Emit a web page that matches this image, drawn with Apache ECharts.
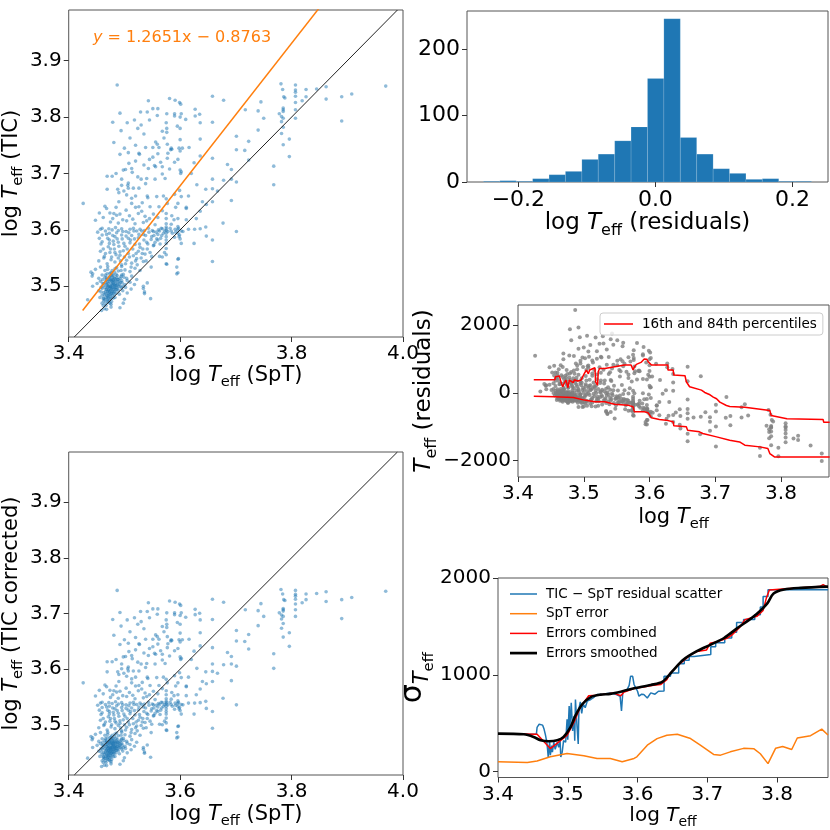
<!DOCTYPE html>
<html><head><meta charset="utf-8">
<script src="https://cdn.jsdelivr.net/npm/echarts@6.0.0/dist/echarts.min.js"></script>
<style>html,body{margin:0;padding:0;background:#fff}#c{width:830px;height:830px}</style>
</head><body><div id="c"></div>
<script>
// ---------------- DATA ----------------
// log Teff (SpT) vs log Teff (TIC)
const sptTicUpper = [
[3.487,3.857],[3.543,3.829],[3.581,3.833],[3.591,3.830],[3.599,3.826],[3.601,3.823],[3.551,3.815],[3.529,3.809],[3.541,3.809],[3.559,3.803],
[3.576,3.806],[3.590,3.806],[3.590,3.802],[3.602,3.806],[3.610,3.796],[3.627,3.814],[3.627,3.802],[3.635,3.805],[3.636,3.790],[3.492,3.807],
[3.479,3.791],[3.518,3.795],[3.530,3.786],[3.524,3.780],[3.494,3.776],[3.568,3.775],[3.576,3.773],[3.576,3.780],[3.595,3.784],[3.636,3.761],
[3.481,3.755],[3.510,3.763],[3.571,3.763],[3.556,3.756],[3.559,3.752],[3.562,3.746],[3.577,3.752],[3.551,3.746],[3.538,3.746],[3.584,3.745],
[3.585,3.743],[3.583,3.742],[3.598,3.745],[3.604,3.745],[3.616,3.746],[3.507,3.737],[3.526,3.736],[3.527,3.734],[3.492,3.734],[3.578,3.736],
[3.551,3.729],[3.577,3.727],[3.596,3.725],[3.508,3.718],[3.535,3.715],[3.554,3.714],[3.556,3.712],[3.543,3.709],[3.568,3.712],[3.581,3.708],
[3.600,3.706],[3.602,3.703],[3.601,3.700],[3.498,3.706],[3.502,3.707],[3.513,3.709],[3.514,3.702],[3.524,3.694],[3.530,3.690],[3.540,3.691],
[3.555,3.690],[3.568,3.699],[3.573,3.691],[3.478,3.695],[3.469,3.695],[3.507,3.683],[3.495,3.679],[3.506,3.679],[3.507,3.674],[3.516,3.674],
[3.526,3.674],[3.538,3.682],[3.488,3.672],[3.469,3.672],[3.490,3.666],[3.499,3.669],[3.504,3.662],[3.513,3.656],[3.520,3.660],[3.541,3.660],
[3.542,3.657],[3.558,3.659],[3.570,3.660],[3.575,3.655],[3.590,3.663],[3.602,3.659],[3.599,3.670],[3.646,3.672],[3.426,3.647],[3.465,3.642],
[3.490,3.650],[3.513,3.647],[3.532,3.648],[3.526,3.641],[3.546,3.641],[3.562,3.641],[3.611,3.640],[3.577,3.647],[3.596,3.647],[3.636,3.731],[3.625,3.719],
[3.485,3.700],[3.495,3.690],[3.520,3.722],[3.545,3.725],[3.560,3.735],[3.565,3.720],[3.590,3.720],[3.600,3.740],[3.600,3.760],[3.600,3.780],
[3.600,3.800],[3.575,3.790],[3.545,3.795],[3.560,3.815],[3.535,3.770],[3.520,3.750],[3.500,3.745],[3.505,3.790],[3.620,3.700],[3.630,3.680],
[3.615,3.660],[3.640,3.650]
];
const sptTicRight = [
[3.781,3.859],[3.784,3.849],[3.786,3.836],[3.788,3.834],[3.807,3.857],[3.807,3.848],[3.807,3.844],[3.807,3.837],[3.807,3.826],[3.807,3.813],
[3.807,3.798],[3.819,3.829],[3.826,3.849],[3.826,3.836],[3.845,3.850],[3.862,3.854],[3.862,3.832],[3.890,3.836],[3.908,3.841],[3.969,3.855],
[3.890,3.793],[3.785,3.816],[3.785,3.813],[3.785,3.810],[3.778,3.806],[3.782,3.801],[3.785,3.798],[3.782,3.792],[3.785,3.782],[3.782,3.771],
[3.785,3.751],[3.796,3.761],[3.796,3.730],[3.768,3.713],[3.768,3.680],[3.745,3.827],[3.740,3.811],[3.750,3.798],[3.740,3.777],[3.717,3.813],
[3.723,3.757],[3.716,3.741],[3.701,3.766],[3.701,3.742],[3.723,3.724],[3.685,3.716],[3.692,3.707],[3.692,3.690],[3.701,3.685],[3.692,3.652],
[3.678,3.688],[3.677,3.612],[3.701,3.597],[3.658,3.837],[3.678,3.830],[3.658,3.791],[3.658,3.727],[3.658,3.690],[3.658,3.673],[3.658,3.650],
[3.647,3.645],[3.667,3.669],[3.647,3.589],[3.658,3.582],[3.658,3.544]
];
const sptTicMiddle = [
[3.636,3.602],[3.625,3.576],[3.626,3.601],[3.615,3.601],[3.611,3.638],[3.636,3.633],[3.597,3.549],[3.594,3.522],[3.576,3.539],[3.568,3.552],
[3.548,3.534],[3.547,3.478],[3.536,3.487],[3.534,3.496],[3.522,3.512],[3.500,3.477],[3.492,3.462],[3.459,3.457],[3.476,3.463],[3.434,3.476],
[3.443,3.500],[3.443,3.522],[3.448,3.617],
[3.481,3.629],[3.486,3.626],[3.525,3.629],[3.537,3.624],[3.545,3.620],[3.575,3.629],[3.589,3.618],[3.596,3.620],[3.611,3.618],[3.629,3.620],
[3.475,3.614],[3.489,3.612],[3.504,3.616],[3.519,3.611],[3.534,3.613],[3.555,3.609],[3.575,3.620],[3.584,3.610],
[3.457,3.601],[3.460,3.603],[3.466,3.598],[3.472,3.602],[3.478,3.600],[3.484,3.604],[3.489,3.599],[3.495,3.602],[3.503,3.597],[3.510,3.601],
[3.516,3.603],[3.522,3.598],[3.528,3.601],[3.536,3.599],[3.543,3.603],[3.552,3.597],[3.561,3.600],[3.568,3.602],[3.575,3.602],[3.584,3.598],
[3.591,3.601],[3.597,3.603],[3.602,3.598],[3.646,3.605],
[3.460,3.591],[3.473,3.594],[3.483,3.588],[3.495,3.591],[3.507,3.585],[3.513,3.590],[3.525,3.586],[3.534,3.592],[3.549,3.588],[3.558,3.584],
[3.567,3.590],[3.575,3.594],[3.590,3.587],[3.599,3.591],
[3.460,3.579],[3.473,3.582],[3.481,3.574],[3.489,3.578],[3.501,3.571],[3.510,3.577],[3.519,3.574],[3.528,3.569],[3.540,3.578],[3.552,3.572],
[3.564,3.575],[3.575,3.576],[3.602,3.576],[3.473,3.576],
[3.457,3.562],[3.466,3.558],[3.475,3.566],[3.483,3.560],[3.492,3.555],[3.498,3.563],[3.507,3.558],[3.516,3.554],[3.525,3.562],[3.537,3.557],
[3.549,3.553],[3.572,3.560],[3.575,3.556],
[3.454,3.545],[3.463,3.550],[3.469,3.540],[3.476,3.547],[3.483,3.543],[3.489,3.550],[3.495,3.538],[3.504,3.546],[3.513,3.541],[3.522,3.549],
[3.534,3.544],[3.575,3.540],[3.596,3.548],
[3.440,3.525],[3.448,3.530],[3.457,3.534],[3.465,3.528],[3.470,3.535],[3.476,3.524],[3.483,3.531],[3.489,3.527],[3.495,3.535],[3.501,3.529],
[3.510,3.526],[3.519,3.532],[3.528,3.528],[3.594,3.534],[3.596,3.524],
[3.532,3.558],[3.553,3.573],[3.560,3.582],[3.541,3.566],[3.520,3.545],[3.563,3.553],[3.505,3.488],[3.512,3.495],[3.518,3.503],
[3.452,3.596],[3.455,3.585],[3.458,3.575],[3.462,3.566],[3.464,3.553],[3.468,3.592],[3.470,3.585],[3.471,3.570],[3.474,3.560],[3.477,3.552],
[3.479,3.590],[3.480,3.580],[3.482,3.566],[3.485,3.556],[3.486,3.595],[3.487,3.584],[3.490,3.571],[3.492,3.561],[3.493,3.545],[3.496,3.584],
[3.497,3.597],[3.499,3.576],[3.500,3.552],[3.502,3.540],[3.503,3.589],[3.505,3.566],[3.508,3.595],[3.509,3.552],[3.511,3.582],[3.512,3.534],
[3.515,3.566],[3.517,3.598],[3.518,3.584],[3.521,3.558],[3.523,3.538],[3.526,3.592],[3.527,3.575],[3.530,3.550],[3.531,3.598],[3.533,3.566],
[3.535,3.582],[3.538,3.590],[3.539,3.545],[3.542,3.575],[3.544,3.596],[3.546,3.560],[3.548,3.583],[3.550,3.599],[3.553,3.590],[3.555,3.578],
[3.557,3.596],[3.560,3.592],[3.563,3.598],[3.565,3.585],[3.566,3.603],[3.570,3.594],[3.572,3.598],[3.575,3.599],[3.575,3.605],[3.575,3.611],
[3.575,3.588],[3.575,3.582],[3.575,3.567],[3.578,3.597],[3.582,3.603],[3.586,3.594],[3.592,3.596],[3.596,3.594],[3.596,3.600],[3.596,3.606],
[3.598,3.588],[3.600,3.584],[3.605,3.597],
[3.455,3.630],[3.462,3.622],[3.468,3.638],[3.474,3.630],[3.479,3.620],[3.485,3.640],[3.492,3.628],[3.497,3.618],[3.503,3.635],[3.509,3.625],
[3.515,3.619],[3.520,3.640],[3.531,3.633],[3.540,3.616],[3.552,3.628],[3.560,3.622],[3.568,3.634],[3.585,3.625],[3.592,3.640]
];
const sptTicCluster = [
[3.442,3.518],[3.454,3.514],[3.460,3.520],[3.465,3.516],[3.469,3.522],[3.473,3.513],[3.476,3.519],[3.481,3.515],[3.485,3.521],[3.489,3.512],
[3.494,3.517],[3.498,3.521],[3.504,3.514],[3.513,3.518],[3.478,3.512],[3.467,3.511],
[3.451,3.505],[3.457,3.509],[3.462,3.501],[3.466,3.507],[3.469,3.503],[3.473,3.509],[3.476,3.500],[3.480,3.506],[3.483,3.502],[3.487,3.508],
[3.491,3.504],[3.495,3.510],[3.501,3.503],[3.510,3.507],[3.534,3.500],[3.541,3.506],[3.471,3.505],[3.478,3.504],[3.485,3.498],
[3.454,3.492],[3.460,3.496],[3.463,3.489],[3.467,3.494],[3.470,3.490],[3.474,3.497],[3.478,3.491],[3.481,3.495],[3.485,3.488],[3.489,3.493],
[3.495,3.497],[3.536,3.490],[3.472,3.493],[3.476,3.487],
[3.460,3.484],[3.463,3.479],[3.467,3.486],[3.470,3.481],[3.474,3.477],[3.479,3.484],[3.483,3.480],[3.465,3.476],[3.469,3.483],
[3.460,3.470],[3.463,3.474],[3.467,3.466],[3.472,3.472],[3.476,3.468],[3.498,3.470],[3.464,3.460],
[3.471,3.499],[3.477,3.510],[3.482,3.497],[3.486,3.515],[3.468,3.502],[3.475,3.493],[3.484,3.511],[3.480,3.520],[3.474,3.517],[3.479,3.501],
[3.458,3.498],[3.461,3.512],[3.464,3.485],[3.466,3.520],[3.468,3.495],[3.470,3.508],[3.471,3.487],[3.473,3.500],[3.474,3.523],[3.475,3.482],
[3.476,3.505],[3.477,3.495],[3.479,3.515],[3.480,3.490],[3.481,3.503],[3.482,3.525],[3.483,3.509],[3.484,3.494],[3.486,3.502],[3.487,3.519],
[3.488,3.497],[3.490,3.508],[3.491,3.486],[3.492,3.514],[3.493,3.500],[3.496,3.506],[3.497,3.492],[3.499,3.516],[3.502,3.498],[3.505,3.510],
[3.462,3.478],[3.466,3.470],[3.469,3.476],[3.472,3.483],[3.477,3.473],[3.480,3.479],[3.470,3.530],[3.478,3.528],[3.486,3.533],[3.494,3.528],
[3.463,3.505],[3.468,3.515],[3.473,3.490],[3.479,3.497],[3.483,3.514],[3.488,3.503],[3.475,3.511],[3.470,3.498],[3.481,3.486],[3.476,3.479],
[3.456,3.480],[3.458,3.490],[3.461,3.505],[3.465,3.498],[3.467,3.480],[3.469,3.512],[3.471,3.478],[3.473,3.516],[3.475,3.500],[3.477,3.488],
[3.478,3.520],[3.480,3.510],[3.482,3.490],[3.484,3.505],[3.486,3.494],[3.488,3.512],[3.490,3.500],[3.493,3.507],[3.495,3.520],[3.498,3.500],
[3.471,3.493],[3.476,3.497],[3.479,3.508],[3.483,3.500],[3.474,3.486],[3.466,3.490],[3.470,3.473],[3.462,3.466],[3.468,3.459],[3.474,3.470]
];
// linear fit shown in the annotation (TIC = a * SpT + b)
const FIT_SLOPE = 1.2651, FIT_INTERCEPT = -0.8763;
const fitLine = [[3.425,3.457],[3.99,4.171]];
const oneToOne = [[3.41,3.41],[3.99,3.99]];

// histogram of log Teff residuals
const histEdges = [-0.2510,-0.2271,-0.2031,-0.1792,-0.1552,-0.1313,-0.1073,-0.0834,-0.0594,-0.0355,-0.0115,
                   0.0124,0.0364,0.0603,0.0843,0.1082,0.1322,0.1561,0.1801,0.2040,0.2280];
const histCounts = [1,2,1,5,11,16,34,42,62,83,156,246,67,42,20,13,4,5,1,1];

// rolling 16th / 84th percentiles of Teff residuals
const p84Line = [[3.424,385],[3.456,385],[3.457,473],[3.463,493],[3.466,277],[3.468,178],[3.470,277],[3.473,375],[3.476,150],[3.478,375],
[3.481,400],[3.484,300],[3.486,380],[3.491,350],[3.496,380],[3.499,400],[3.501,572],[3.504,671],[3.507,560],[3.509,671],[3.511,720],[3.517,739],
[3.518,325],[3.521,227],[3.522,621],[3.524,720],[3.532,720],[3.534,769],[3.547,769],[3.549,798],[3.562,818],[3.572,818],[3.575,671],[3.577,760],
[3.580,838],[3.587,897],[3.592,996],[3.596,990],[3.598,916],[3.603,818],[3.628,818],[3.628,670],[3.636,670],[3.637,522],[3.654,503],[3.656,326],
[3.661,178],[3.679,79],[3.684,10],[3.692,-59],[3.697,-128],[3.702,-177],[3.707,-276],[3.717,-374],[3.722,-404],[3.745,-424],[3.748,-473],
[3.783,-523],[3.785,-670],[3.788,-720],[3.809,-769],[3.864,-789],[3.865,-868],[3.874,-868]];
const p16Line = [[3.424,-100],[3.456,-118],[3.484,-140],[3.501,-216],[3.517,-266],[3.532,-266],[3.534,-305],[3.547,-335],[3.567,-364],[3.575,-414],
[3.577,-562],[3.592,-562],[3.598,-591],[3.603,-739],[3.615,-790],[3.625,-807],[3.628,-857],[3.636,-857],[3.637,-976],[3.656,-1005],[3.658,-1104],
[3.676,-1153],[3.681,-1202],[3.702,-1301],[3.722,-1399],[3.737,-1449],[3.745,-1547],[3.768,-1596],[3.780,-1646],[3.783,-1793],[3.790,-1892],[3.874,-1892]];

// sigma Teff curves
const sigmaScatter = [[3.400,385],[3.455,385],[3.456,456],[3.459,490],[3.464,480],[3.466,439],[3.468,380],[3.470,303],[3.471,235],[3.472,150],
[3.474,310],[3.475,170],[3.477,269],[3.478,200],[3.480,303],[3.482,230],[3.485,303],[3.487,250],[3.489,320],[3.490,150],[3.492,201],[3.494,320],
[3.497,303],[3.499,541],[3.500,330],[3.502,677],[3.503,450],[3.505,711],[3.507,420],[3.509,575],[3.510,320],[3.511,745],[3.513,500],[3.515,286],
[3.516,650],[3.518,720],[3.520,600],[3.522,700],[3.525,660],[3.528,730],[3.533,745],[3.538,770],[3.542,796],[3.550,800],[3.561,813],[3.568,800],
[3.575,779],[3.577,626],[3.579,830],[3.585,847],[3.588,890],[3.590,984],[3.593,984],[3.595,900],[3.600,830],[3.602,779],[3.606,800],[3.609,796],
[3.614,760],[3.619,813],[3.625,800],[3.630,830],[3.638,832],[3.638,985],[3.647,985],[3.648,1019],[3.659,1019],[3.659,1115],[3.667,1115],
[3.667,1150],[3.674,1150],[3.674,1189],[3.681,1189],[3.681,1209],[3.705,1209],[3.705,1290],[3.712,1290],[3.712,1330],[3.725,1330],[3.725,1380],
[3.735,1380],[3.735,1440],[3.742,1440],[3.742,1540],[3.752,1540],[3.752,1570],[3.768,1570],[3.768,1620],[3.776,1620],[3.776,1700],[3.780,1700],
[3.780,1810],[3.787,1810],[3.787,1878],[3.873,1878]];
const sigmaSpT = [[3.400,102],[3.442,95],[3.456,109],[3.475,153],[3.499,187],[3.523,164],[3.542,136],[3.561,136],[3.578,102],[3.595,136],
[3.599,153],[3.614,273],[3.628,341],[3.642,375],[3.657,385],[3.676,341],[3.690,273],[3.709,177],[3.719,170],[3.733,204],[3.752,240],[3.767,235],
[3.776,184],[3.787,82],[3.798,242],[3.808,259],[3.821,228],[3.829,347],[3.848,371],[3.864,439],[3.873,378]];
const sigmaCombined = [[3.400,392],[3.456,385],[3.475,238],[3.499,375],[3.509,511],[3.518,664],[3.530,784],[3.542,790],[3.566,811],[3.576,784],
[3.580,818],[3.595,859],[3.623,893],[3.633,899],[3.642,951],[3.647,1019],[3.659,1104],[3.676,1206],[3.685,1240],[3.699,1257],[3.704,1325],
[3.714,1342],[3.728,1376],[3.735,1410],[3.747,1495],[3.754,1570],[3.771,1604],[3.780,1665],[3.785,1802],[3.789,1877],[3.808,1887],[3.861,1911],
[3.866,1931],[3.873,1904]];
const sigmaSmoothed = [[3.400,392],[3.437,385],[3.451,358],[3.461,324],[3.473,313],[3.485,324],[3.494,358],[3.504,460],[3.511,579],[3.521,698],
[3.533,770],[3.547,795],[3.561,803],[3.576,825],[3.595,860],[3.619,895],[3.636,930],[3.650,1039],[3.666,1158],[3.685,1244],[3.705,1312],
[3.724,1380],[3.743,1482],[3.760,1567],[3.772,1635],[3.786,1738],[3.795,1840],[3.810,1881],[3.834,1898],[3.873,1911]];

// ---------------- DERIVED ----------------
const sptTic = [].concat(sptTicUpper, sptTicRight, sptTicMiddle, sptTicCluster);
const sptCorrected = sptTic.map(([s, t]) => [s, (t - FIT_INTERCEPT) / FIT_SLOPE]);
const teffResiduals = sptCorrected.filter(([s]) => s <= 3.873)
  .map(([s, c]) => [s, Math.pow(10, c) - Math.pow(10, s)]);
const histData = histCounts.map((c, i) => [histEdges[i], histEdges[i + 1], c]);

// ---------------- CHART ----------------
const FONT = 'DejaVu Sans';
const minus = s => String(s).replace('-', '\u2212');
const f1 = v => minus(v.toFixed(1));
const f0 = v => minus(v.toFixed(0));

function richSet(size, sub, pad) {
  const base = {fontFamily: FONT, color: '#000', verticalAlign: 'top'};
  return {
    n: Object.assign({}, base, {fontSize: size, lineHeight: size}),
    i: Object.assign({}, base, {fontSize: size, lineHeight: size, fontStyle: 'italic'}),
    s: Object.assign({}, base, {fontSize: sub, lineHeight: sub, padding: [pad, 0, 0, 0]})
  };
}
function axis(gi, min, max, ticks, fmt, fs, name, gap, rich) {
  return {
    type: 'value', gridIndex: gi, min, max,
    axisLine: {show: false, onZero: false}, splitLine: {show: false},
    axisTick: {show: true, length: 5, lineStyle: {color: '#333', width: 1}, customValues: ticks},
    axisLabel: {customValues: ticks, formatter: fmt, fontFamily: FONT, fontSize: fs, color: '#000', margin: 7},
    name, nameLocation: 'middle', nameGap: gap, nameTextStyle: {rich}
  };
}
const grid = (left, top, width, height) => ({left, top, width, height, show: true, borderColor: '#555', borderWidth: 1, backgroundColor: 'transparent', containLabel: false});

const R21 = richSet(21, 14.7, 10);
const R23 = richSet(23, 16, 11);
const R20 = richSet(20, 14, 9.5);
const sigmaRich = {
  g: {fontFamily: FONT, fontSize: 30, lineHeight: 30, color: '#000', verticalAlign: 'top'},
  t: {fontFamily: FONT, fontSize: 21, lineHeight: 21, fontStyle: 'italic', color: '#000', verticalAlign: 'top', padding: [14, 0, 0, 0]},
  e: {fontFamily: FONT, fontSize: 14.7, lineHeight: 14.7, color: '#000', verticalAlign: 'top', padding: [23, 0, 0, 0]}
};
const thin = 'path://M0,0h18v1h-18z';
const thick = 'path://M0,0h10v1h-10z';
const legendText = {fontFamily: FONT, fontSize: 13.5, color: '#000', padding: [0, 0, 0, 4]};

const option = {
  animation: false,
  backgroundColor: '#fff',
  grid: [
    grid(66, 10, 337, 327),
    grid(467, 11, 361, 171),
    grid(518, 305, 311, 172),
    grid(498, 578, 330, 201),
    grid(66, 452, 337, 326)
  ],
  xAxis: [
    axis(0, 3.4, 4.0, [3.4, 3.6, 3.8, 4.0], f1, 20, '{n|log }{i|T}{s|eff}{n| (SpT)}', 25, R21),
    axis(1, -0.275, 0.252, [-0.2, 0, 0.2], f1, 22, '{n|log }{i|T}{s|eff}{n| (residuals)}', 30, R23),
    axis(2, 3.4, 3.873, [3.4, 3.5, 3.6, 3.7, 3.8], f1, 20, '{n|log }{i|T}{s|eff}', 30, R21),
    axis(3, 3.4, 3.873, [3.4, 3.5, 3.6, 3.7, 3.8], f1, 20, '{n|log }{i|T}{s|eff}', 28, R20),
    axis(4, 3.4, 4.0, [3.4, 3.6, 3.8, 4.0], f1, 20, '{n|log }{i|T}{s|eff}{n| (SpT)}', 29, R21)
  ],
  yAxis: [
    axis(0, 3.41, 3.99, [3.5, 3.6, 3.7, 3.8, 3.9], f1, 20, '{n|log }{i|T}{s|eff}{n| (TIC)}', 41, R21),
    axis(1, 0, 257.6, [0, 100, 200], f0, 22, '', 0, R21),
    axis(2, -2485, 2591, [-2000, 0, 2000], f0, 20, '{i|T}{s|eff}{n| (residuals)}', 70, R23),
    axis(3, -61, 2000, [0, 1000, 2000], f0, 20, '{g|\u03c3}{t|T}{e|eff}', 57, sigmaRich),
    axis(4, 3.41, 3.99, [3.5, 3.6, 3.7, 3.8, 3.9], f1, 20, '{n|log }{i|T}{s|eff}{n| (TIC corrected)}', 41, R21)
  ],
  legend: [
    {
      data: [{name: '16th and 84th percentiles', icon: 'path://M0,0h19v1h-19z'}], left: 600, top: 313, orient: 'vertical',
      padding: [4, 6, 4, 4], backgroundColor: 'rgba(255,255,255,0.8)', borderColor: '#cccccc', borderWidth: 1, borderRadius: 3,
      itemWidth: 29, itemHeight: 14, selectedMode: false, symbolKeepAspect: true, textStyle: legendText
    },
    {
      data: [
        {name: 'TIC \u2212 SpT residual scatter', icon: thin},
        {name: 'SpT error', icon: thin},
        {name: 'Errors combined', icon: thin},
        {name: 'Errors smoothed', icon: thick}
      ],
      left: 510, top: 587, orient: 'vertical', padding: 0, itemGap: 5.7,
      itemWidth: 27, itemHeight: 14, selectedMode: false, symbolKeepAspect: true, textStyle: legendText
    }
  ],
  graphic: [{
    type: 'text', left: 93, top: 30,
    style: {
      text: '{i|y}{n| = 1.2651x \u2212 0.8763}',
      rich: {
        i: {fontFamily: FONT, fontSize: 16, fontStyle: 'italic', fill: '#ff7f0e', color: '#ff7f0e'},
        n: {fontFamily: FONT, fontSize: 16, fill: '#ff7f0e', color: '#ff7f0e'}
      }
    }
  }],
  series: [
    {type: 'scatter', xAxisIndex: 0, yAxisIndex: 0, data: sptTic, symbolSize: 3.6,
     itemStyle: {color: '#1f77b4', opacity: 0.5}, clip: true, z: 2},
    {type: 'line', xAxisIndex: 0, yAxisIndex: 0, data: fitLine, symbol: 'none', clip: true,
     lineStyle: {color: '#ff7f0e', width: 1.5}, z: 3},
    {type: 'line', xAxisIndex: 0, yAxisIndex: 0, data: oneToOne, symbol: 'none', clip: true,
     lineStyle: {color: '#222', width: 1}, z: 3},
    {type: 'custom', xAxisIndex: 1, yAxisIndex: 1, data: histData, encode: {x: [0, 1], y: 2},
     renderItem: (params, api) => {
       const p0 = api.coord([api.value(0), 0]);
       const p1 = api.coord([api.value(1), api.value(2)]);
       return {type: 'rect', shape: {x: p0[0], y: p1[1], width: p1[0] - p0[0], height: p0[1] - p1[1]},
               style: {fill: '#1f77b4', stroke: 'rgba(255,255,255,0.25)', lineWidth: 0.5}};
     }},
    {type: 'scatter', xAxisIndex: 2, yAxisIndex: 2, data: teffResiduals, symbolSize: 4,
     itemStyle: {color: '#808080'}, clip: true, z: 2},
    {type: 'line', name: '16th and 84th percentiles', xAxisIndex: 2, yAxisIndex: 2, data: p84Line, symbol: 'none',
     lineStyle: {color: '#ff0000', width: 1.5}, itemStyle: {color: '#ff0000'}, z: 3},
    {type: 'line', name: '16th and 84th percentiles', xAxisIndex: 2, yAxisIndex: 2, data: p16Line, symbol: 'none',
     lineStyle: {color: '#ff0000', width: 1.5}, itemStyle: {color: '#ff0000'}, z: 3},
    {type: 'line', name: 'TIC \u2212 SpT residual scatter', xAxisIndex: 3, yAxisIndex: 3, data: sigmaScatter, symbol: 'none',
     lineStyle: {color: '#1f77b4', width: 1.5}, itemStyle: {color: '#1f77b4'}, z: 2},
    {type: 'line', name: 'SpT error', xAxisIndex: 3, yAxisIndex: 3, data: sigmaSpT, symbol: 'none',
     lineStyle: {color: '#ff7f0e', width: 1.5}, itemStyle: {color: '#ff7f0e'}, z: 3},
    {type: 'line', name: 'Errors combined', xAxisIndex: 3, yAxisIndex: 3, data: sigmaCombined, symbol: 'none',
     lineStyle: {color: '#ff0000', width: 1.5}, itemStyle: {color: '#ff0000'}, z: 4},
    {type: 'line', name: 'Errors smoothed', xAxisIndex: 3, yAxisIndex: 3, data: sigmaSmoothed, symbol: 'none', smooth: 0.3,
     lineStyle: {color: '#000', width: 2.6}, itemStyle: {color: '#000'}, z: 5},
    {type: 'scatter', xAxisIndex: 4, yAxisIndex: 4, data: sptCorrected, symbolSize: 3.6,
     itemStyle: {color: '#1f77b4', opacity: 0.5}, clip: true, z: 2},
    {type: 'line', xAxisIndex: 4, yAxisIndex: 4, data: oneToOne, symbol: 'none', clip: true,
     lineStyle: {color: '#222', width: 1}, z: 3}
  ]
};
const chart = echarts.init(document.getElementById('c'), null, {renderer: 'canvas'});
chart.setOption(option);
</script></body></html>
